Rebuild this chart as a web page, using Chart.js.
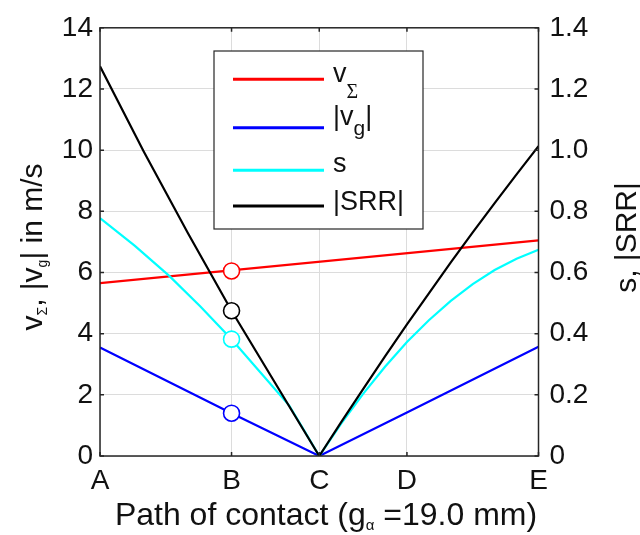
<!DOCTYPE html>
<html>
<head>
<meta charset="utf-8">
<script src="https://cdn.jsdelivr.net/npm/chart.js@4.4.1/dist/chart.umd.min.js"></script>
<style>
  html, body { margin: 0; padding: 0; background: #fff; }
</style>
</head>
<body>
<canvas id="contact-chart" width="640" height="535"></canvas>
<script>
// Positions along the path of contact (mm) and their letters
const tickPos = [0, 5.7, 9.5, 13.3, 19];
const tickNames = ['A', 'B', 'C', 'D', 'E'];

// v_sum (m/s, left axis)
const sumX = [0, 19];
const sumVel = [5.65, 7.05];

// |v_g| (m/s, left axis)
const slideX = [0, 5.7, 9.5, 13.3, 19];
const slideVel = [3.55, 1.40, 0, 1.42, 3.57];

// s (right axis)
const sX = [0, 1.5, 3.0, 4.35, 5.7, 7.0, 8.2, 8.85, 9.5,
            10.45, 11.4, 12.35, 13.3, 14.25, 15.2, 16.15, 17.1, 18.05, 19];
const sVal = [0.778, 0.688, 0.589, 0.489, 0.382, 0.269, 0.165, 0.083, 0,
              0.106, 0.203, 0.292, 0.373, 0.444, 0.507, 0.562, 0.608, 0.645, 0.674];

// |SRR| (right axis)
const srrX = [0, 1.9, 3.8, 5.7, 9.5,
              10.45, 11.4, 12.35, 13.3, 14.25, 15.2, 16.15, 17.1, 18.05, 19];
const srrVal = [1.274, 0.995, 0.73, 0.475, 0,
                0.111, 0.219, 0.326, 0.43, 0.532, 0.633, 0.731, 0.827, 0.921, 1.013];

// circles at point B
const markX = 5.7;
const markSum = 6.05;
const markSlide = 1.40;
const markS = 0.382;
const markSrr = 0.475;

const seriesLabels = ['v_Σ', '|v_g|', 's', '|SRR|'];
const seriesColors = ['#ff0000', '#0000ff', '#00ffff', '#000000'];
const leftTitle = 'v_Σ, |v_g| in m/s';
const rightTitle = 's, |SRR|';
const xTitle = 'Path of contact (g_α =19.0 mm)';

const FONT = '"Liberation Sans", Arial, sans-serif';
const SERIF = '"Liberation Serif", "Times New Roman", serif';

function pts(xs, ys) {
    return xs.map((x, i) => ({ x: x, y: ys[i] }));
}

function lineSet(i, xs, ys, axis) {
    return {
        type: 'line',
        label: seriesLabels[i],
        data: pts(xs, ys),
        borderColor: seriesColors[i],
        borderWidth: 2.2,
        pointRadius: 0,
        tension: 0,
        fill: false,
        yAxisID: axis,
        order: 4 - i,
    };
}

function markSet(i, y, axis) {
    return {
        type: 'scatter',
        label: 'mark' + i,
        data: [{ x: markX, y: y }],
        borderColor: seriesColors[i],
        backgroundColor: '#fff',
        pointRadius: 8,
        pointBorderWidth: 1.6,
        showLine: false,
        yAxisID: axis,
        order: 0,
    };
}

// split "v_Σ" style text into normal / subscript runs
function richParts(text) {
    const parts = [];
    for (let i = 0; i < text.length; i++) {
        if (text[i] === '_') {
            parts.push({ t: text[i + 1], sub: true });
            i++;
        } else {
            const last = parts[parts.length - 1];
            if (last && !last.sub) last.t += text[i];
            else parts.push({ t: text[i], sub: false });
        }
    }
    return parts;
}

function drawRich(ctx, text, x, y, o) {
    const parts = richParts(text);
    const fontFor = p => {
        if (!p.sub) return `${o.size}px ${FONT}`;
        const greek = /[\u0370-\u03ff]/.test(p.t);
        return `${o.subSize}px ${greek && o.greekSerif ? SERIF : FONT}`;
    };
    let w = 0;
    parts.forEach(p => {
        ctx.font = fontFor(p);
        p.w = ctx.measureText(p.t).width;
        w += p.w;
    });
    let cx = o.align === 'center' ? x - w / 2 : x;
    ctx.textAlign = 'left';
    ctx.textBaseline = 'alphabetic';
    parts.forEach(p => {
        ctx.font = fontFor(p);
        ctx.fillText(p.t, cx, y + (p.sub ? o.subDrop : 0));
        cx += p.w;
    });
}

const decorPlugin = {
    id: 'decor',
    afterDatasetsDraw(chart) {
        const { ctx, chartArea: a, scales } = chart;
        ctx.save();
        ctx.strokeStyle = '#262626';
        ctx.lineWidth = 1.5;
        ctx.beginPath();
        scales.y.ticks.forEach(t => {
            const py = scales.y.getPixelForValue(t.value);
            ctx.moveTo(a.left, py); ctx.lineTo(a.left + 4, py);
            ctx.moveTo(a.right, py); ctx.lineTo(a.right - 4, py);
        });
        tickPos.forEach(v => {
            const px = scales.x.getPixelForValue(v);
            ctx.moveTo(px, a.top); ctx.lineTo(px, a.top + 4);
            ctx.moveTo(px, a.bottom); ctx.lineTo(px, a.bottom - 4);
        });
        ctx.stroke();
        ctx.strokeRect(a.left, a.top, a.right - a.left, a.bottom - a.top);
        ctx.restore();
    },
    afterDraw(chart) {
        const ctx = chart.ctx;
        ctx.save();
        ctx.fillStyle = '#111';

        // axis titles
        ctx.save();
        ctx.translate(42, 247);
        ctx.rotate(-Math.PI / 2);
        drawRich(ctx, leftTitle, 0, 0, { size: 30, subSize: 14, subDrop: 5, align: 'center' });
        ctx.restore();

        ctx.save();
        ctx.translate(636, 237.5);
        ctx.rotate(-Math.PI / 2);
        drawRich(ctx, rightTitle, 0, 0, { size: 30, align: 'center' });
        ctx.restore();

        drawRich(ctx, xTitle, 326, 525, { size: 32, subSize: 15, subDrop: 5, align: 'center' });

        // legend box
        const box = { x: 214, y: 51, w: 209, h: 178 };
        const lineY = [79.3, 127.7, 170.3, 206];
        const textY = [81.7, 125, 171.7, 210];
        ctx.fillStyle = '#fff';
        ctx.fillRect(box.x, box.y, box.w, box.h);
        ctx.strokeStyle = '#262626';
        ctx.lineWidth = 1.2;
        ctx.strokeRect(box.x, box.y, box.w, box.h);
        seriesLabels.forEach((lab, i) => {
            ctx.strokeStyle = seriesColors[i];
            ctx.lineWidth = 3;
            ctx.beginPath();
            ctx.moveTo(233, lineY[i]);
            ctx.lineTo(324, lineY[i]);
            ctx.stroke();
            ctx.fillStyle = '#111';
            drawRich(ctx, lab, 333, textY[i], {
                size: 27, subSize: i === 0 ? 20 : 21, subDrop: i === 0 ? 16.5 : 10, greekSerif: true,
            });
        });
        ctx.restore();
    }
};

const tickFont = { family: FONT, size: 28 };

new Chart(document.getElementById('contact-chart').getContext('2d'), {
    data: {
        datasets: [
            markSet(0, markSum, 'y'),
            markSet(1, markSlide, 'y'),
            markSet(2, markS, 'y1'),
            markSet(3, markSrr, 'y1'),
            lineSet(0, sumX, sumVel, 'y'),
            lineSet(1, slideX, slideVel, 'y'),
            lineSet(2, sX, sVal, 'y1'),
            lineSet(3, srrX, srrVal, 'y1'),
        ]
    },
    options: {
        responsive: false,
        devicePixelRatio: 1,
        animation: false,
        layout: { padding: { top: 19, left: 0, right: 0, bottom: 0 } },
        scales: {
            x: {
                type: 'linear',
                min: 0,
                max: 19,
                afterBuildTicks: s => { s.ticks = tickPos.map(v => ({ value: v })); },
                afterFit: s => { s.height = 79; },
                ticks: {
                    autoSkip: false,
                    maxRotation: 0,
                    padding: 8,
                    color: '#111',
                    font: tickFont,
                    callback: v => tickNames[tickPos.indexOf(v)],
                },
                grid: { color: '#dcdcdc', lineWidth: 1, drawTicks: false },
                border: { display: false },
            },
            y: {
                position: 'left',
                min: 0,
                max: 14,
                afterFit: s => { s.width = 100; },
                ticks: { stepSize: 2, padding: 7, color: '#111', font: tickFont },
                grid: { color: '#dcdcdc', lineWidth: 1, drawTicks: false },
                border: { display: false },
            },
            y1: {
                position: 'right',
                min: 0,
                max: 1.4,
                afterFit: s => { s.width = 101.5; },
                ticks: {
                    stepSize: 0.2,
                    padding: 11,
                    color: '#111',
                    font: tickFont,
                    callback: v => (Math.abs(v) < 1e-9 ? '0' : v.toFixed(1)),
                },
                grid: { display: false, drawTicks: false },
                border: { display: false },
            }
        },
        plugins: {
            legend: { display: false },
            tooltip: { enabled: false },
        }
    },
    plugins: [decorPlugin]
});
</script>
</body>
</html>
